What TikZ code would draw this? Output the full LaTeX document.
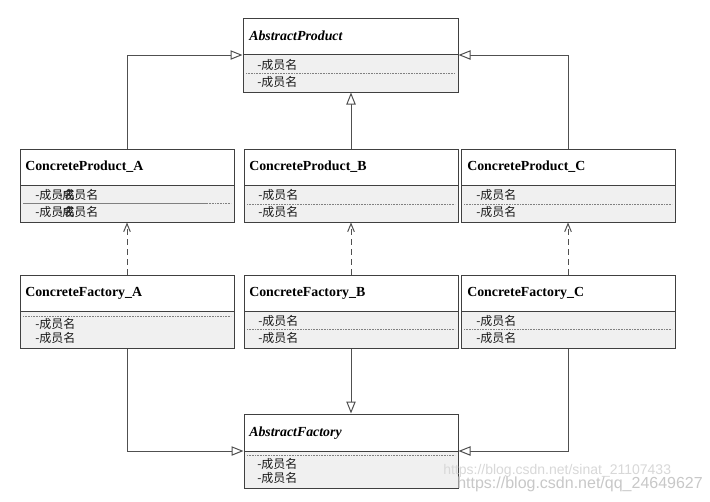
\documentclass[tikz,border=0pt]{standalone}
\usepackage{fontspec}
\setmainfont{Liberation Serif}
\newfontfamily\cjk{Noto Sans CJK SC}
\newfontfamily\wmfont{Liberation Sans}
\usetikzlibrary{arrows.meta,fit}
\definecolor{boxline}{HTML}{404040}
\definecolor{compfill}{HTML}{F0F0F0}
\definecolor{connline}{HTML}{505050}
\definecolor{wmgrayA}{HTML}{D8D8D8}
\definecolor{wmgrayB}{HTML}{C8C8C8}
\tikzset{
 classbox/.style={draw=boxline, line width=0.75pt, inner sep=0pt},
 sepline/.style={draw=boxline, line width=0.75pt},
 dotline/.style={draw=gray, line width=0.6pt, dash pattern=on 0.6pt off 0.6pt},
 compart/.style={fill=compfill},
 title/.style={anchor=west, inner sep=0pt, font=\bfseries\fontsize{10.4}{12}\selectfont},
 ititle/.style={anchor=west, inner sep=0pt, font=\bfseries\itshape\fontsize{10.4}{12}\selectfont},
 attr/.style={anchor=west, inner sep=0pt, font=\cjk\fontsize{9}{10}\selectfont, text=black!90},
 gen/.style={draw=connline, line width=0.75pt, -{Triangle[open, length=9pt, width=7pt, fill=white]}},
 realize/.style={draw=connline, line width=0.75pt, dash pattern=on 4.5pt off 3pt, -{Straight Barb[length=6pt, width=5pt]}},
 wmA/.style={anchor=base west, inner sep=0pt, font=\wmfont\fontsize{10.5}{12}\selectfont, text=wmgrayA},
 wmB/.style={anchor=base west, inner sep=0pt, font=\wmfont\fontsize{12}{14}\selectfont, text=wmgrayB},
}
\begin{document}
\begin{tikzpicture}[x=0.75pt, y=-0.75pt]
\useasboundingbox[fill=white] (0,0) rectangle (710,501);

% ---------- AbstractProduct ----------
\fill[compart] (243,54) rectangle (458,92);
\node[classbox, fit={(243,18) (458,92)}] (ap) {};
\draw[sepline] (243,54) -- (458,54);
\draw[dotline] (246,73) -- (455,73);
\node[ititle] (apt) at (249,36) {AbstractProduct};
\node[attr] (apa1) at (257,65) {-成员名};
\node[attr] (apa2) at (257,82) {-成员名};

% ---------- ConcreteProduct_A ----------
\fill[compart] (20,185) rectangle (234,222);
\node[classbox, fit={(20,149) (234,222)}] (cpa) {};
\draw[sepline] (20,185) -- (234,185);
\draw[dotline] (23,203) -- (231,203);
\draw[draw=gray, line width=0.5pt] (23,203.5) -- (207,203.5);
\node[title] (cpat) at (25,167) {ConcreteProduct\_A};
\node[attr] (cpa1) at (35,195) {-成员名};
\node[attr] (cpa1b) at (58,195) {-成员名};
\node[attr] (cpa2) at (35,212) {-成员名};
\node[attr] (cpa2b) at (58,212) {-成员名};

% ---------- ConcreteProduct_B ----------
\fill[compart] (244,185) rectangle (458,222);
\node[classbox, fit={(244,149) (458,222)}] (cpb) {};
\draw[sepline] (244,185) -- (458,185);
\draw[dotline] (247,204) -- (455,204);
\node[title] (cpbt) at (249,167) {ConcreteProduct\_B};
\node[attr] (cpb1) at (258,195) {-成员名};
\node[attr] (cpb2) at (258,212) {-成员名};

% ---------- ConcreteProduct_C ----------
\fill[compart] (461,185) rectangle (675,222);
\node[classbox, fit={(461,149) (675,222)}] (cpc) {};
\draw[sepline] (461,185) -- (675,185);
\draw[dotline] (464,204) -- (672,204);
\node[title] (cpct) at (467,167) {ConcreteProduct\_C};
\node[attr] (cpc1) at (476,195) {-成员名};
\node[attr] (cpc2) at (476,212) {-成员名};

% ---------- ConcreteFactory_A ----------
\fill[compart] (20,311) rectangle (234,348);
\node[classbox, fit={(20,275) (234,348)}] (cfa) {};
\draw[sepline] (20,311) -- (234,311);
\draw[dotline] (23,316) -- (231,316);
\node[title] (cfat) at (25,293) {ConcreteFactory\_A};
\node[attr] (cfa1) at (35,324) {-成员名};
\node[attr] (cfa2) at (35,338) {-成员名};

% ---------- ConcreteFactory_B ----------
\fill[compart] (244,311) rectangle (458,348);
\node[classbox, fit={(244,275) (458,348)}] (cfb) {};
\draw[sepline] (244,311) -- (458,311);
\draw[dotline] (247,329) -- (455,329);
\node[title] (cfbt) at (249,293) {ConcreteFactory\_B};
\node[attr] (cfb1) at (258,321) {-成员名};
\node[attr] (cfb2) at (258,338) {-成员名};

% ---------- ConcreteFactory_C ----------
\fill[compart] (461,311) rectangle (675,348);
\node[classbox, fit={(461,275) (675,348)}] (cfc) {};
\draw[sepline] (461,311) -- (675,311);
\draw[dotline] (464,329) -- (672,329);
\node[title] (cfct) at (467,293) {ConcreteFactory\_C};
\node[attr] (cfc1) at (476,321) {-成员名};
\node[attr] (cfc2) at (476,338) {-成员名};

% ---------- AbstractFactory ----------
\fill[compart] (244,451) rectangle (458,488);
\node[classbox, fit={(244,414) (458,488)}] (af) {};
\draw[sepline] (244,451) -- (458,451);
\draw[dotline] (247,455) -- (455,455);
\node[ititle] (aft) at (249,433) {AbstractFactory};
\node[attr] (af1) at (257,464) {-成员名};
\node[attr] (af2) at (257,478) {-成员名};

% ---------- connectors ----------
\draw[gen] (cpa.north) |- (ap.west);
\draw[gen] (cpb.north) -- (cpb.north |- ap.south);
\draw[gen] (cpc.north) |- (ap.east);
\draw[realize] (cfa.north) -- (cpa.south);
\draw[realize] (cfb.north) -- (cpb.south);
\draw[realize] (cfc.north) -- (cpc.south);
\draw[gen] (cfa.south) |- (af.west);
\draw[gen] (cfb.south) -- (cfb.south |- af.north);
\draw[gen] (cfc.south) |- (af.east);

% ---------- watermark ----------
\node[wmA] (wm1) at (443,474) {https://blog.csdn.net/sinat\_21107433};
\node[wmB] (wm2) at (457,488) {https://blog.csdn.net/qq\_24649627};
\end{tikzpicture}
\end{document}
